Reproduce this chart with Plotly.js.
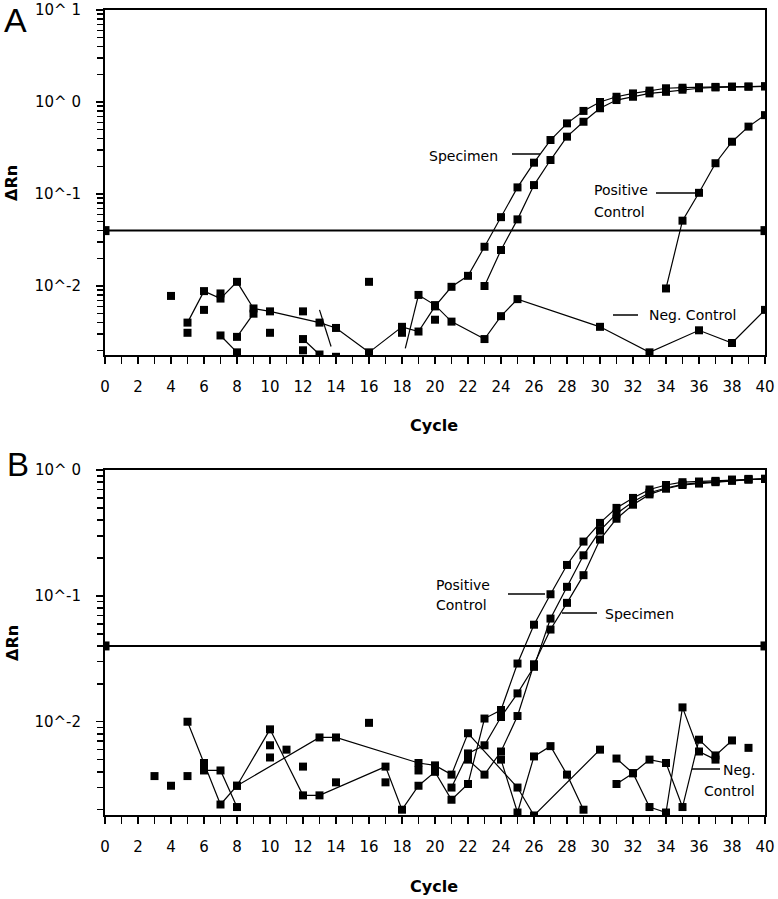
<!DOCTYPE html>
<html>
<head>
<meta charset="utf-8">
<script src="https://cdn.plot.ly/plotly-3.0.1.min.js"></script>
<style>html,body{margin:0;padding:0;background:#fff;}#chart{width:778px;height:899px;}</style>
</head>
<body>
<div id="chart"></div>
<script>
// ---------- Panel A data ----------
const xTicksLabels = ['0','2','4','6','8','10','12','14','16','18','20','22','24','26','28','30','32','34','36','38','40'];
const yTickValsA = [0.01, 0.1, 1, 10];
const yTickTextA = ['10^-2', '10^-1', '10^ 0', '10^ 1'];
const yTickValsB = [0.01, 0.1, 1];
const yTickTextB = ['10^-2', '10^-1', '10^ 0'];

const aSpec1Cycle = [5,6,7,8,9,10,13,14,16,18,19,20,21,22,23,24,25,26,27,28,29,30,31,32,33,34,35,36,37,38,39,40];
const aSpec1Val   = [0.0040,0.0088,0.0073,0.0111,0.0057,0.0053,0.0040,0.0035,0.0019,0.0036,0.0032,0.0060,0.0098,0.0129,0.0267,0.056,0.118,0.219,0.386,0.586,0.80,1.00,1.14,1.24,1.33,1.41,1.43,1.45,1.46,1.47,1.47,1.48];

const aSpec2Cycle = [23,24,25,26,27,28,29,30,31,32,33,34,35,36,37,38,39,40];
const aSpec2Val   = [0.0100,0.0246,0.053,0.125,0.234,0.42,0.61,0.855,1.05,1.14,1.24,1.29,1.36,1.41,1.44,1.46,1.47,1.48];

const aPosCycle = [34,35,36,37,38,39,40];
const aPosVal   = [0.0094,0.0513,0.103,0.216,0.37,0.54,0.72];

const aNegCycle = [19,20,21,23,24,25,30,33,36,38,40];
const aNegVal   = [0.0080,0.0062,0.0041,0.00265,0.0047,0.0072,0.0036,0.0019,0.0033,0.0024,0.0055];

const aSeg1Cycle = [7,8];      const aSeg1Val = [0.0029,0.0019];
const aSeg2Cycle = [8,9];      const aSeg2Val = [0.0028,0.0050];
const aSeg3Cycle = [12,13];    const aSeg3Val = [0.00265,0.0018];
const aSeg4Cycle = [13,13.7];  const aSeg4Val = [0.0055,0.0022];
const aSeg5Cycle = [18.2,19];  const aSeg5Val = [0.0021,0.0080];

const aIsoCycle = [4,5,6,7,10,12,12,14,16,18,20];
const aIsoVal   = [0.0078,0.0031,0.0055,0.0083,0.0031,0.0053,0.0020,0.0017,0.0111,0.0031,0.0043];

const thrCycle = [0,40];
const aThrVal = [0.04,0.04];

// ---------- Panel B data ----------
const bPosCycle = [5,6,7,8,10,12,13,17,18,19,20,21,22,23,24,25,26,27,28,29,30,31,32,33,34,35,36,37,38,39,40];
const bPosVal   = [0.0100,0.0047,0.0022,0.0031,0.0087,0.0026,0.0026,0.0044,0.0020,0.0031,0.0040,0.0024,0.0032,0.0106,0.0124,0.029,0.059,0.103,0.176,0.27,0.38,0.50,0.60,0.70,0.76,0.80,0.81,0.82,0.84,0.85,0.85];

const bSpec1Cycle = [21,22,23,24,25,26,27,28,29,30,31,32,33,34,35,36,37,38,39,40];
const bSpec1Val   = [0.0030,0.0056,0.0065,0.0109,0.0168,0.0273,0.066,0.118,0.21,0.33,0.45,0.56,0.66,0.72,0.77,0.79,0.81,0.83,0.84,0.85];

const bSpec2Cycle = [22,23,24,25,26,27,28,29,30,31,32,33,34,35,36,37,38,39,40];
const bSpec2Val   = [0.0050,0.0038,0.0058,0.0111,0.0286,0.054,0.088,0.146,0.28,0.41,0.53,0.64,0.71,0.76,0.78,0.80,0.82,0.84,0.85];

const bNeg3Cycle = [8,13,14,19,20,21,22,25,26,30];
const bNeg3Val   = [0.0031,0.0075,0.0075,0.0047,0.0045,0.0038,0.0081,0.0030,0.0018,0.0060];

const bNeg2Cycle = [6,7,8];
const bNeg2Val   = [0.0041,0.0041,0.0021];

const bNeg4Cycle = [24,25,26,27,28,29];
const bNeg4Val   = [0.0050,0.0019,0.0053,0.0064,0.0038,0.0020];

const bNeg5Cycle = [31,32,33,34,35,36,37];
const bNeg5Val   = [0.0051,0.0039,0.0021,0.0019,0.0130,0.0058,0.0050];

const bNeg6Cycle = [31,32,33,34,35,36,37,38];
const bNeg6Val   = [0.0032,0.0039,0.0050,0.0047,0.0021,0.0072,0.0054,0.0071];

const bIsoCycle = [3,4,5,10,10,11,12,14,16,17,19,39];
const bIsoVal   = [0.0037,0.0031,0.0037,0.0065,0.0052,0.0060,0.0044,0.0033,0.0098,0.0033,0.0041,0.0062];

const bThrVal = [0.04,0.04];

// ---------- build ----------
const W = 778, H = 899;
const PX = v => v / W;
const PY = v => 1 - v / H;
const FONT = 'DejaVu Sans, Verdana, sans-serif';

function lineTrace(x, y, ax, w) {
  return {type:'scatter', mode:'lines+markers', x:x, y:y, xaxis:ax[0], yaxis:ax[1],
    line:{color:'#000', width:w||1.2}, marker:{symbol:'square', size:8, color:'#000'},
    showlegend:false, hoverinfo:'skip'};
}
function bareLine(x, y, ax) {
  return {type:'scatter', mode:'lines', x:x, y:y, xaxis:ax[0], yaxis:ax[1],
    line:{color:'#000', width:1.2}, showlegend:false, hoverinfo:'skip'};
}
function ptTrace(x, y, ax) {
  return {type:'scatter', mode:'markers', x:x, y:y, xaxis:ax[0], yaxis:ax[1],
    marker:{symbol:'square', size:8, color:'#000'}, showlegend:false, hoverinfo:'skip'};
}
function thrTrace(x, y, ax) {
  return {type:'scatter', mode:'lines+markers', x:x, y:y, xaxis:ax[0], yaxis:ax[1],
    line:{color:'#000', width:2}, marker:{symbol:'square', size:9, color:'#000'},
    showlegend:false, hoverinfo:'skip'};
}
const A = ['x','y'], B = ['x2','y2'];
const data = [
  thrTrace(thrCycle, aThrVal, A),
  lineTrace(aSpec1Cycle, aSpec1Val, A),
  lineTrace(aSpec2Cycle, aSpec2Val, A),
  lineTrace(aPosCycle, aPosVal, A),
  lineTrace(aNegCycle, aNegVal, A),
  lineTrace(aSeg1Cycle, aSeg1Val, A),
  lineTrace(aSeg2Cycle, aSeg2Val, A),
  lineTrace(aSeg3Cycle, aSeg3Val, A),
  bareLine(aSeg4Cycle, aSeg4Val, A),
  bareLine(aSeg5Cycle, aSeg5Val, A),
  ptTrace(aIsoCycle, aIsoVal, A),
  thrTrace(thrCycle, bThrVal, B),
  lineTrace(bPosCycle, bPosVal, B),
  lineTrace(bSpec1Cycle, bSpec1Val, B),
  lineTrace(bSpec2Cycle, bSpec2Val, B),
  lineTrace(bNeg3Cycle, bNeg3Val, B),
  lineTrace(bNeg2Cycle, bNeg2Val, B),
  lineTrace(bNeg4Cycle, bNeg4Val, B),
  lineTrace(bNeg5Cycle, bNeg5Val, B),
  lineTrace(bNeg6Cycle, bNeg6Val, B),
  ptTrace(bIsoCycle, bIsoVal, B)
];

function minorLog(lo, hi) {
  const out = [];
  for (let e = lo; e < hi; e++) for (let d = 2; d <= 9; d++) out.push(d * Math.pow(10, e));
  return out;
}

function xAxis(anchor) {
  return {domain:[PX(105), PX(765)], range:[0,40], anchor:anchor,
    tickmode:'array', tickvals:xTicksLabels.map(Number), ticktext:xTicksLabels,
    ticks:'outside', ticklen:7, tickwidth:1.5, tickcolor:'#000',
    showline:true, linewidth:2, linecolor:'#000', mirror:true,
    showgrid:false, zeroline:false, ticklabelstandoff:10,
    tickfont:{family:FONT, size:15, color:'#000'},
    minor:{tickmode:'linear', tick0:0, dtick:1, ticks:'outside', ticklen:7, tickwidth:1.5, tickcolor:'#000', showgrid:false}};
}
function yAxis(anchor, dom, range, vals, text, mlo, mhi) {
  return {domain:dom, type:'log', range:range, anchor:anchor,
    tickmode:'array', tickvals:vals, ticktext:text,
    ticks:'outside', ticklen:7, tickwidth:1.5, tickcolor:'#000',
    showline:true, linewidth:2, linecolor:'#000', mirror:true,
    showgrid:false, zeroline:false, ticklabelstandoff:12,
    tickfont:{family:FONT, size:15, color:'#000'},
    minor:{tickmode:'array', tickvals:minorLog(mlo, mhi), ticks:'outside', ticklen:6, tickwidth:1.5, tickcolor:'#000', showgrid:false}};
}

function txt(t, x, y, xa, opts) {
  return Object.assign({text:t, x:PX(x), y:PY(y), xref:'paper', yref:'paper', xanchor:xa, yanchor:'middle',
    showarrow:false, font:{family:FONT, size:14, color:'#000'}}, opts||{});
}
function seg(x0, x1, y) {
  return {type:'line', xref:'paper', yref:'paper', x0:PX(x0), x1:PX(x1), y0:PY(y), y1:PY(y), line:{color:'#000', width:1.5}};
}

const annotations = [
  txt('A', 16, 20, 'center', {font:{family:'Liberation Sans, Arial, sans-serif', size:34, color:'#000'}}),
  txt('B', 18, 464, 'center', {font:{family:'Liberation Sans, Arial, sans-serif', size:33, color:'#000'}}),
  txt('<b>ΔRn</b>', 12, 183, 'center', {textangle:-90, font:{family:FONT, size:16, color:'#000'}}),
  txt('<b>ΔRn</b>', 12, 643, 'center', {textangle:-90, font:{family:FONT, size:16, color:'#000'}}),
  txt('<b>Cycle</b>', 434, 425, 'center', {font:{family:FONT, size:16, color:'#000'}}),
  txt('<b>Cycle</b>', 434, 886, 'center', {font:{family:FONT, size:16, color:'#000'}}),
  txt('Specimen', 500, 156, 'right'),
  txt('Positive', 592, 190, 'left'),
  txt('Control', 592, 212, 'left'),
  txt('Neg. Control', 647, 315, 'left'),
  txt('Positive', 434, 585, 'left'),
  txt('Control', 434, 605, 'left'),
  txt('Specimen', 603, 614, 'left'),
  txt('Neg.', 757, 770, 'right'),
  txt('Control', 757, 791, 'right')
];
const shapes = [
  seg(512, 540, 154),
  seg(656, 700, 193),
  seg(613, 638, 315),
  seg(508, 545, 594),
  seg(562, 597, 613),
  seg(692, 720, 769)
];

const layout = {
  width:W, height:H, margin:{l:0, r:0, t:0, b:0},
  paper_bgcolor:'#fff', plot_bgcolor:'#fff', showlegend:false,
  xaxis: xAxis('y'),
  yaxis: yAxis('x', [PY(355), PY(10)], [-2.75, 1], yTickValsA, yTickTextA, -3, 1),
  xaxis2: xAxis('y2'),
  yaxis2: yAxis('x2', [PY(815), PY(470)], [-2.741, 0], yTickValsB, yTickTextB, -3, 0),
  annotations: annotations,
  shapes: shapes
};

Plotly.newPlot('chart', data, layout, {staticPlot:true, displayModeBar:false});
</script>
</body>
</html>
